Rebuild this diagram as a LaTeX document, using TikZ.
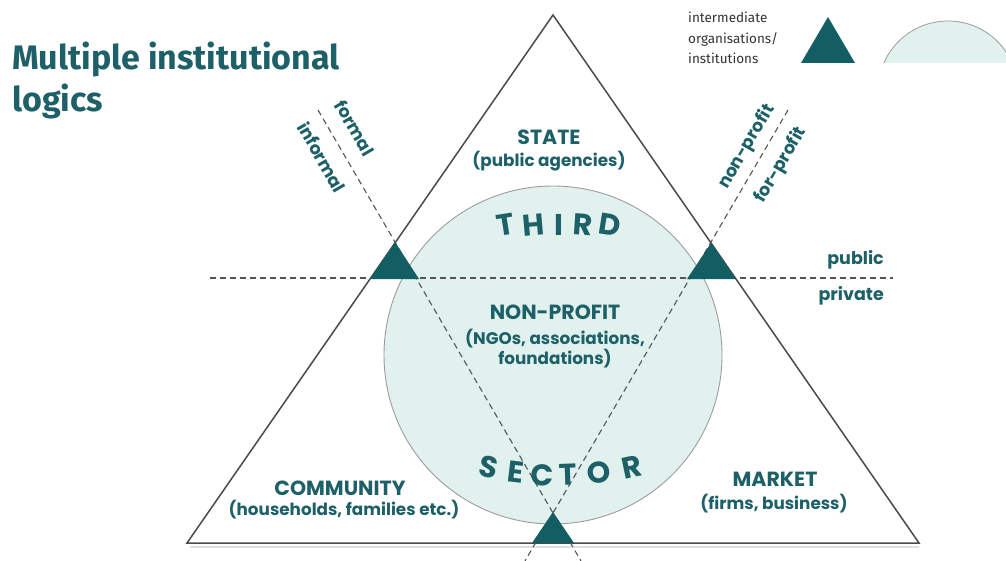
\documentclass[tikz,border=0pt]{standalone}
\usepackage{fontspec}
\setmainfont{Fira Sans}
\newfontfamily\gothicfam{Poppins}
\newcommand\gothic{\gothicfam\bfseries}
\definecolor{tealtext}{HTML}{1D6068}
\definecolor{tealfill}{HTML}{135E63}
\definecolor{circfill}{HTML}{E1F1EE}
\definecolor{circline}{HTML}{9C9C9C}
\definecolor{triline}{HTML}{4A4A4A}
\definecolor{dashcol}{HTML}{555555}
\definecolor{legtext}{HTML}{333333}
\begin{document}
\begin{tikzpicture}[x=1pt,y=-1pt,
  lab/.style={text=tealtext, font=\gothic\fontsize{20.5}{22}\selectfont, inner sep=0pt},
  sub/.style={text=tealtext, font=\gothic\fontsize{16.8}{19}\selectfont, inner sep=0pt},
  big/.style={text=tealtext, font=\gothic\fontsize{30}{32}\selectfont, inner sep=0pt},
  side/.style={text=tealtext, font=\gothic\fontsize{17.5}{20}\selectfont, inner sep=0pt},
  dline/.style={draw=dashcol, line width=1.1pt, dash pattern=on 6pt off 4pt},
  tline/.style={draw=triline, line width=1.5pt, line join=miter},
  marker/.style={fill=tealfill},
  ttl/.style={text=tealtext, font=\bfseries\fontsize{34}{36}\selectfont, inner sep=0pt, anchor=base west},
  leg/.style={text=legtext, font=\fontsize{13.5}{16}\selectfont, inner sep=0pt, anchor=base west}]
\useasboundingbox (0,0) rectangle (1006,561);
% title
\node[ttl] (title1) at (12,70) {Multiple institutional};
\node[ttl] (title2) at (12,112) {logics};
% legend
\node[leg] (leg1) at (688,23) {intermediate};
\node[leg] (leg2) at (688,44) {organisations/};
\node[leg] (leg3) at (688,64) {institutions};
\fill[marker] (828,17) -- (801,63) -- (855,63) -- cycle;
\begin{scope}
  \clip (860,0) rectangle (1006,63);
  \filldraw[fill=circfill, draw=circline, line width=0.8pt] (948,91) circle (70pt);
\end{scope}
% third sector circle
\node[circle, minimum size=338pt, inner sep=0pt, fill=circfill, draw=circline, line width=0.9pt] (ts) at (553,355) {};
% big triangle
\draw[draw=black!12, line width=2pt] (190,546.5) -- (919,546.5);
\coordinate (apex) at (553,15);
\coordinate (bl) at (187,543);
\coordinate (br) at (919,543);
\draw[tline] (apex) -- (bl) -- (br) -- cycle;
% dashed lines
\coordinate (lt) at (318,110);
\coordinate (lb) at (581,561);
\coordinate (rt) at (788,110);
\coordinate (rb) at (525,561);
\coordinate (hl) at (210,278);
\coordinate (hr) at (893,278);
\draw[dline] (lt) -- (lb);
\draw[dline] (rt) -- (rb);
\draw[dline] (hl) -- (hr);
% intermediate markers
\fill[marker] (395,242) -- (370,279) -- (419,279) -- cycle;
\fill[marker] (711,243) -- (687,279) -- (736,279) -- cycle;
\fill[marker] (553,512) -- (532,543) -- (574,543) -- cycle;
% labels
\node[lab] (state) at (549,137) {STATE};
\node[sub] (statesub) at (549,161) {(public agencies)};
\node[lab] (np) at (555,312) {NON-PROFIT};
\node[sub] (npsub1) at (555,339) {(NGOs, associations,};
\node[sub] (npsub2) at (555,359) {foundations)};
\node[lab] (comm) at (340,488) {COMMUNITY};
\node[sub] (commsub) at (344,510) {(households, families etc.)};
\node[lab] (market) at (775,479) {MARKET};
\node[sub] (marketsub) at (774,504) {(firms, business)};
\node[side, anchor=east] (public) at (884,260) {public};
\node[side, anchor=east] (private) at (884,296) {private};
\node[side, rotate=-59.7] (formal) at (355,128) {formal};
\node[side, rotate=-59.7] (informal) at (322,157) {informal};
\node[side, rotate=59.7] (nonprofit) at (747,147) {non-profit};
\node[side, rotate=59.7] (forprofit) at (781,165) {for-profit};
% THIRD / SECTOR
\foreach \ch/\x/\y/\r in {T/506/225/9, H/533/225/5, I/559/225/0, R/583/225/-4, D/610/225/-9}
  \node[big, rotate=\r] (third\ch) at (\x,\y) {\ch};
\foreach \ch/\x/\y/\r in {S/489/467/-12, E/516/472/-7, C/542/475/-2, T/568/475/2, O/599/473/7, R/632/467/12}
  \node[big, rotate=\r] (sector\ch) at (\x,\y) {\ch};
\end{tikzpicture}
\end{document}
